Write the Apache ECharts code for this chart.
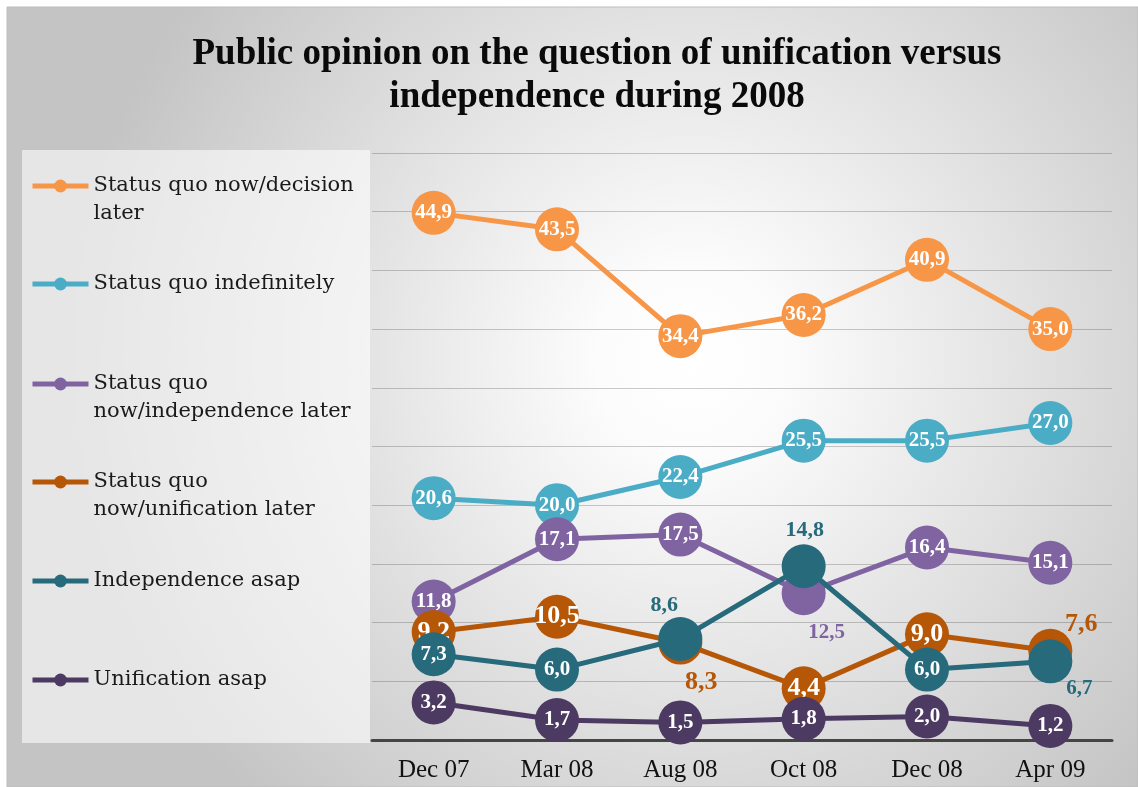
<!DOCTYPE html>
<html><head><meta charset="utf-8">
<script src="https://cdn.jsdelivr.net/npm/echarts@6/dist/echarts.min.js"></script>
<style>html,body{margin:0;padding:0;background:#fff}#chart{width:1138px;height:787px}</style>
</head><body><div id="chart"></div>
<script>
// ---- data ----
const categories = ['Dec 07', 'Mar 08', 'Aug 08', 'Oct 08', 'Dec 08', 'Apr 09'];
const seriesNames = [
  'Status quo now/decision later',
  'Status quo indefinitely',
  'Status quo now/independence later',
  'Status quo now/unification later',
  'Independence asap',
  'Unification asap'
];
const legendLabels = [
  'Status quo now/decision\nlater',
  'Status quo indefinitely',
  'Status quo\nnow/independence later',
  'Status quo\nnow/unification later',
  'Independence asap',
  'Unification asap'
];
const decisionLater     = [44.9, 43.5, 34.4, 36.2, 40.9, 35.0];
const indefinitely      = [20.6, 20.0, 22.4, 25.5, 25.5, 27.0];
const independenceLater = [11.8, 17.1, 17.5, 12.5, 16.4, 15.1];
const unificationLater  = [9.2, 10.5, 8.3, 4.4, 9.0, 7.6];
const independenceAsap  = [7.3, 6.0, 8.6, 14.8, 6.0, 6.7];
const unificationAsap   = [3.2, 1.7, 1.5, 1.8, 2.0, 1.2];
const yMin = 0, yMax = 50, yStep = 5;

// ---- styles ----
const colors = ['#F79646', '#4BACC6', '#8064A2', '#B65708', '#276A7C', '#4D3A63'];
const labelSizes = [21, 21, 21, 26, 21, 21];
// labels drawn outside the marker: [seriesIndex, pointIndex, offset, fontSize]
const outsideLabels = [
  [4, 2, [-16, -34], 22],
  [4, 3, [1, -36], 22],
  [2, 3, [23, 39], 21],
  [3, 2, [21, 40], 26],
  [3, 5, [31, -26], 26],
  [4, 5, [29, 27], 21]
];
const legendLineY = [185, 283, 383, 481, 580, 679];

const allValues = [decisionLater, indefinitely, independenceLater, unificationLater, independenceAsap, unificationAsap];
const fmt = v => v.toFixed(1).replace('.', ',');

const series = allValues.map((vals, s) => ({
  name: seriesNames[s],
  type: 'line',
  z: 2 + s,
  symbol: 'circle',
  symbolSize: 44,
  color: colors[s],
  lineStyle: { width: 5, color: colors[s] },
  itemStyle: { color: colors[s] },
  label: {
    show: true,
    position: 'inside',
    formatter: p => fmt(p.value),
    color: '#ffffff',
    fontFamily: 'Liberation Serif',
    fontWeight: 'bold',
    fontSize: labelSizes[s]
  },
  emphasis: { disabled: true },
  animation: false,
  data: vals.map((v, i) => {
    const o = outsideLabels.find(a => a[0] === s && a[1] === i);
    if (!o) return v;
    return { value: v, label: { offset: o[2], color: colors[s], fontSize: o[3] } };
  })
}));

const legends = seriesNames.map((n, s) => {
  const twoLine = legendLabels[s].indexOf('\n') >= 0;
  return {
    data: [n],
    orient: 'vertical',
    left: 30,
    top: legendLineY[s] - (twoLine ? 42 : 14) + 1,
    padding: 0,
    itemWidth: 56,
    itemHeight: 16,
    selectedMode: false,
    // a blank first line keeps the icon level with the label's first line
    formatter: () => (twoLine ? ' \n' : '') + legendLabels[s],
    lineStyle: { width: 5 },
    textStyle: {
      fontFamily: 'DejaVu Serif',
      fontSize: 21,
      lineHeight: 28,
      color: '#1a1a1a'
    }
  };
});

const chart = echarts.init(document.getElementById('chart'), null, { renderer: 'canvas' });
chart.setOption({
  animation: false,
  backgroundColor: '#ffffff',
  title: {
    text: 'Public opinion on the question of unification versus\nindependence during 2008',
    left: 597,
    top: 33,
    padding: 0,
    textAlign: 'center',
    textStyle: {
      fontFamily: 'Liberation Serif',
      fontWeight: 'bold',
      fontSize: 37,
      lineHeight: 43,
      color: '#0a0a0a'
    }
  },
  graphic: {
    elements: [
      {
        type: 'rect', z: -100, silent: true,
        shape: { x: 7, y: 7, width: 1131, height: 780 },
        style: {
          fill: {
            type: 'radial', x: 690, y: 360, r: 620, global: true,
            colorStops: [
              { offset: 0, color: '#ffffff' },
              { offset: 0.15, color: '#fcfcfc' },
              { offset: 1, color: '#c4c4c4' }
            ]
          },
          stroke: '#bdbdbd', lineWidth: 1
        }
      },
      {
        type: 'rect', z: -99, silent: true,
        shape: { x: 22, y: 150, width: 348, height: 593 },
        style: { fill: 'rgba(255,255,255,0.58)' }
      }
    ]
  },
  legend: legends,
  grid: { left: 372, right: 26, top: 153, bottom: 47, containLabel: false },
  xAxis: {
    type: 'category',
    data: categories,
    boundaryGap: true,
    axisLine: { show: true, lineStyle: { color: '#454545', width: 3 } },
    axisTick: { show: false },
    axisLabel: {
      fontFamily: 'Liberation Serif',
      fontSize: 25,
      color: '#111111',
      margin: 18
    },
    splitLine: { show: false }
  },
  yAxis: {
    type: 'value',
    min: yMin, max: yMax, interval: yStep,
    axisLine: { show: false },
    axisTick: { show: false },
    axisLabel: { show: false },
    splitLine: { show: true, lineStyle: { color: 'rgba(0,0,0,0.2)', width: 1 } }
  },
  series: series
});
</script>
</body></html>
